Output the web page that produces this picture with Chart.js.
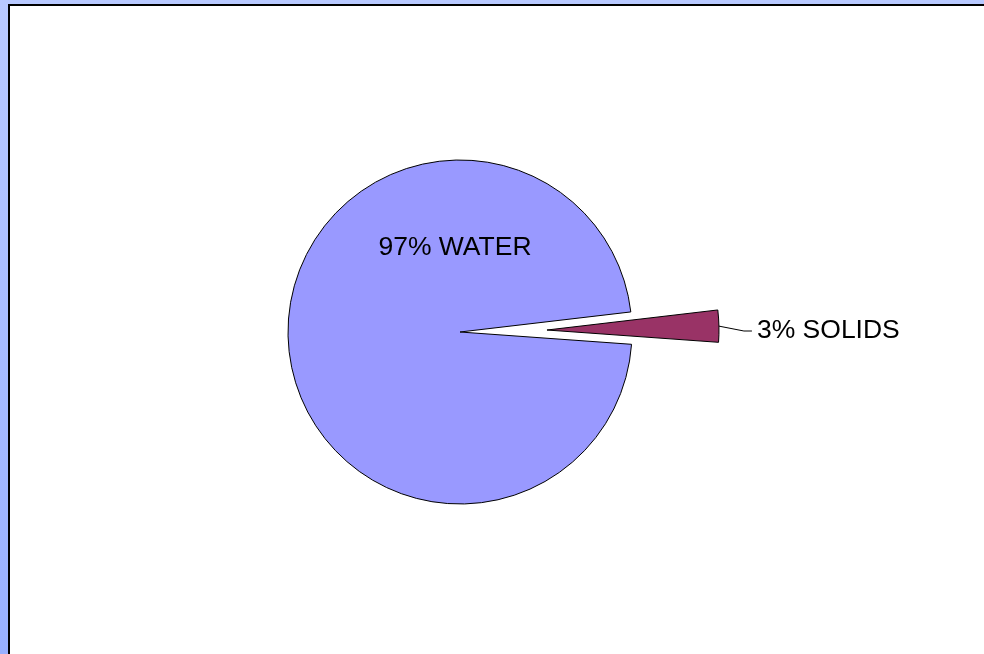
<!DOCTYPE html>
<html>
<head>
<meta charset="utf-8">
<script src="https://cdn.jsdelivr.net/npm/chart.js@4"></script>
<style>
  html, body { margin: 0; padding: 0; width: 984px; height: 654px; overflow: hidden; }
  body { background: linear-gradient(to bottom, #b8c9ff, #98b0ff); position: relative; }
  #panel {
    position: absolute; left: 8px; top: 4px; right: 0; bottom: 0;
    background: #fff; border-left: 2px solid #000; border-top: 2px solid #000;
  }
  #wrap { position: absolute; left: 0; top: 0; width: 984px; height: 654px; }
</style>
</head>
<body>
<div id="panel"></div>
<div id="wrap"><canvas id="pieChart"></canvas></div>
<script>
const labels = ['WATER', 'SOLIDS'];
const values = [97, 3];
const colors = ['#9999ff', '#993366'];

// how far (px) each slice is pulled out of the pie
const explode = [0, 87];

const ctx = document.getElementById('pieChart');

// move exploded slices outward without changing their size or angle
const explodePlugin = {
  id: 'explodeSlices',
  beforeDatasetsDraw(chart) {
    const area = chart.chartArea;
    const cx = (area.left + area.right) / 2;
    const cy = (area.top + area.bottom) / 2;
    chart.getDatasetMeta(0).data.forEach((arc, i) => {
      const mid = (arc.startAngle + arc.endAngle) / 2;
      arc.x = cx + Math.cos(mid) * explode[i];
      arc.y = cy + Math.sin(mid) * explode[i];
    });
  }
};

const labelPlugin = {
  id: 'sliceLabels',
  afterDraw(chart) {
    const c = chart.ctx;
    const arcs = chart.getDatasetMeta(0).data;
    c.save();
    c.font = '26.5px "Liberation Sans", Arial, sans-serif';
    c.fillStyle = '#000';
    c.textBaseline = 'middle';

    // water label sits in the upper part of the big slice
    const w = arcs[0];
    c.textAlign = 'center';
    c.fillText(values[0] + '% ' + labels[0], w.x - 5, w.y - w.outerRadius * 0.49);

    // solids label with a leader line from the exploded slice
    const s = arcs[1];
    const mid = (s.startAngle + s.endAngle) / 2;
    const ex = s.x + Math.cos(mid) * s.outerRadius;
    const ey = s.y + Math.sin(mid) * s.outerRadius;
    const ly = w.y - 1;
    c.strokeStyle = '#000';
    c.lineWidth = 1;
    c.beginPath();
    c.moveTo(ex, ey);
    c.lineTo(ex + 25, ly);
    c.lineTo(ex + 33, ly);
    c.stroke();
    c.textAlign = 'left';
    c.fillText(values[1] + '% ' + labels[1], ex + 38, ly);
    c.restore();
  }
};

new Chart(ctx, {
  type: 'pie',
  data: {
    labels: labels,
    datasets: [
      {
        data: values,
        backgroundColor: colors,
        borderColor: '#000',
        borderWidth: 1
      }
    ]
  },
  options: {
    responsive: true,
    maintainAspectRatio: false,
    animation: false,
    events: [],
    rotation: 94.1,
    radius: 172,
    layout: { padding: { left: 0, right: 64, top: 10, bottom: 0 } },
    plugins: {
      legend: { display: false },
      tooltip: { enabled: false }
    }
  },
  plugins: [explodePlugin, labelPlugin]
});
</script>
</body>
</html>
